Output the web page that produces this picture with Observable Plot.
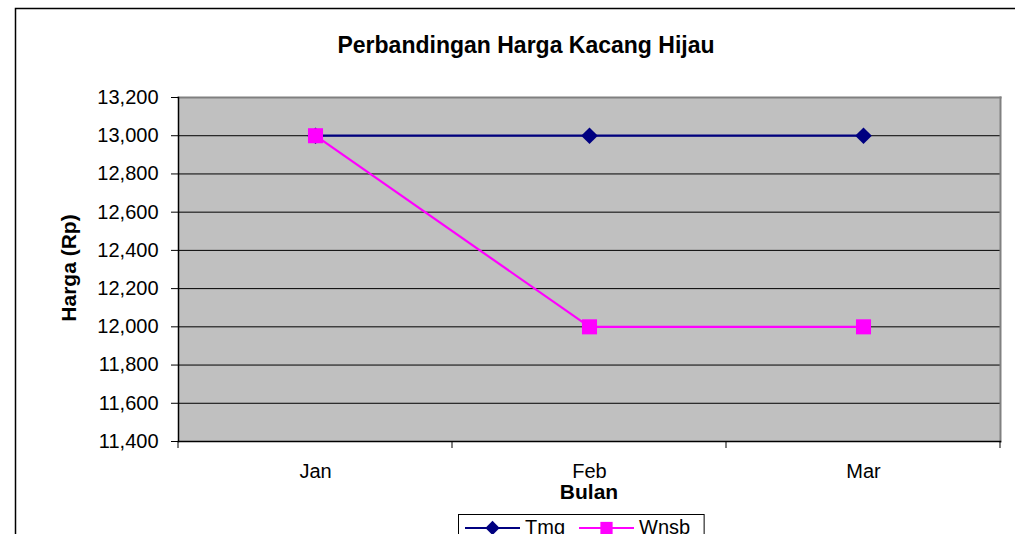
<!DOCTYPE html>
<html><head><meta charset="utf-8">
<script src="https://cdn.jsdelivr.net/npm/d3@7"></script>
<script src="https://cdn.jsdelivr.net/npm/@observablehq/plot@0.6"></script>
<style>body{margin:0;background:#fff;overflow:hidden} svg{display:block}</style>
</head><body><div id="chart"></div>
<script>
const months = ["Jan","Feb","Mar"];
const tmg = [13000,13000,13000];
const wnsb = [13000,12000,12000];
const yTicks = [11400,11600,11800,12000,12200,12400,12600,12800,13000,13200];
const seriesNames = ["Tmg","Wnsb"];
const seriesColors = ["#000080","#FF00FF"];
const seriesSymbols = ["diamond2","square"];
const title = "Perbandingan Harga Kacang Hijau";
const xTitle = "Bulan";
const yTitle = "Harga (Rp)";

const seriesValues = [tmg, wnsb];
const markerR = {"diamond2": 7.5, "square": 8.5};
const font = "'Liberation Sans', Arial, sans-serif";

const marks = [
  Plot.frame({fill: "#C0C0C0"}),
  Plot.ruleY(yTicks, {stroke: "#000", strokeWidth: 1}),
  Plot.frame({anchor: "top", stroke: "#808080", strokeWidth: 2}),
  Plot.frame({anchor: "right", stroke: "#808080", strokeWidth: 2}),
  Plot.frame({anchor: "left", stroke: "#000", strokeWidth: 1.5}),
  Plot.frame({anchor: "bottom", stroke: "#000", strokeWidth: 1.5}),
  Plot.axisY(yTicks, {tickFormat: d3.format(","), tickSize: 7, tickPadding: 13, fontSize: 20, label: null, stroke: "#000"}),
  Plot.axisX({tickSize: 0, tickPadding: 22, fontSize: 20, label: null})
];
seriesNames.forEach((name, s) => {
  const rows = months.map((m, i) => ({month: m, value: seriesValues[s][i]}));
  marks.push(Plot.line(rows, {x: "month", y: "value", stroke: seriesColors[s], strokeWidth: 2.2}));
  marks.push(Plot.dot(rows, {x: "month", y: "value", symbol: seriesSymbols[s], r: markerR[seriesSymbols[s]], fill: seriesColors[s], stroke: "none"}));
});

const chart = Plot.plot({
  width: 1015, height: 534,
  marginLeft: 178, marginRight: 15, marginTop: 97, marginBottom: 93,
  style: {fontFamily: font, background: "white", color: "black", overflow: "hidden"},
  x: {type: "band", domain: months, padding: 0},
  y: {domain: [11400, 13200]},
  marks
});
document.getElementById("chart").append(chart);

const svg = d3.select(chart);
// outer chart border (extends past window)
svg.append("rect").attr("x", 15.5).attr("y", 8.5).attr("width", 1100).attr("height", 700)
  .attr("fill", "none").attr("stroke", "#000").attr("stroke-width", 1.5);

// x band boundary ticks
const xs = chart.scale("x");
const ys = chart.scale("y");
const y0 = ys.apply(yTicks[0]);
const edges = months.map(m => xs.apply(m)).concat([xs.apply(months[months.length-1]) + xs.bandwidth]);
svg.append("g").selectAll("line").data(edges).join("line")
  .attr("x1", d => d).attr("x2", d => d).attr("y1", y0).attr("y2", y0 + 7)
  .attr("stroke", "#000").attr("stroke-width", 1);

// titles
svg.append("text").attr("x", 526).attr("y", 53).attr("text-anchor", "middle")
  .style("font", `bold 23px ${font}`).attr("fill", "#000").text(title);
svg.append("text").attr("x", 589).attr("y", 499).attr("text-anchor", "middle")
  .style("font", `bold 21px ${font}`).attr("fill", "#000").text(xTitle);
svg.append("text").attr("transform", "translate(75.5,268) rotate(-90)").attr("text-anchor", "middle")
  .style("font", `bold 21px ${font}`).attr("fill", "#000").text(yTitle);

// legend
const lg = svg.append("g").attr("text-anchor", "start");
const box = lg.append("rect").attr("y", 514.5).attr("height", 60).attr("fill", "white").attr("stroke", "#000").attr("stroke-width", 1);
let lx = 465;
const ly = 528;
const symGen = {"diamond2": d3.symbolDiamond2, "square": d3.symbolSquare};
const legSize = {"diamond2": 130, "square": 150};
seriesNames.forEach((name, s) => {
  lg.append("line").attr("x1", lx).attr("x2", lx + 55).attr("y1", ly).attr("y2", ly)
    .attr("stroke", seriesColors[s]).attr("stroke-width", 2.2);
  lg.append("path").attr("d", d3.symbol(symGen[seriesSymbols[s]], legSize[seriesSymbols[s]])())
    .attr("transform", `translate(${lx + 27.5},${ly})`).attr("fill", seriesColors[s]);
  const t = lg.append("text").attr("x", lx + 60).attr("y", 534).attr("text-anchor", "start")
    .style("font", `20px ${font}`).attr("fill", "#000").text(name);
  lx = lx + 60 + t.node().getComputedTextLength() + 14;
});
box.attr("x", 458.5).attr("width", lx - 458.5);
</script>
</body></html>
